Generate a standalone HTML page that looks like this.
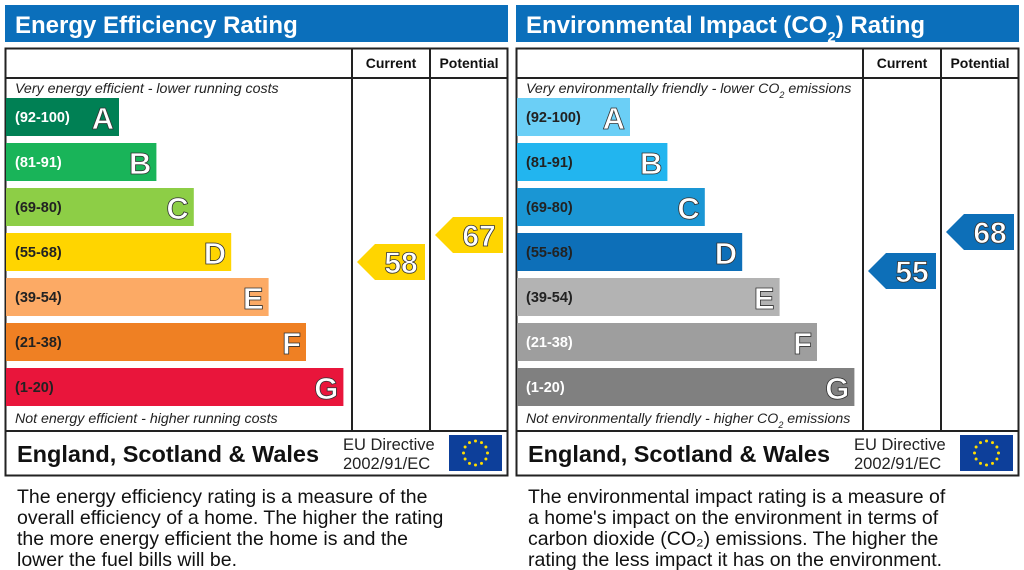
<!DOCTYPE html>
<html><head><meta charset="utf-8"><style>
html,body{margin:0;padding:0;background:#fff;width:1024px;height:570px;overflow:hidden}
text{font-family:"Liberation Sans",Arial,sans-serif}
</style></head><body>
<svg id="epc" width="1024" height="570" viewBox="0 0 1024 570" xmlns="http://www.w3.org/2000/svg"></svg>
<script>
const bandLetters = ["A","B","C","D","E","F","G"];
const bandRanges = ["(92-100)","(81-91)","(69-80)","(55-68)","(39-54)","(21-38)","(1-20)"];
const energyColors = ["#008054","#19b459","#8dce46","#ffd500","#fcaa65","#ef8023","#e9153b"];
const envColors = ["#6bcff6","#22b5ef","#1a96d4","#0d6fb8","#b3b3b3","#9e9e9e","#808080"];
const energyRangeWhite = [true,true,false,false,false,false,false];
const envRangeWhite = [false,false,false,false,false,true,true];
const energyValues = [58, 67];   // current, potential
const envValues = [55, 68];
const descEnergy = ["The energy efficiency rating is a measure of the","overall efficiency of a home. The higher the rating","the more energy efficient the home is and the","lower the fuel bills will be."];
const descEnv = ["The environmental impact rating is a measure of","a home's impact on the environment in terms of","carbon dioxide (CO₂) emissions. The higher the","rating the less impact it has on the environment."];

const NS="http://www.w3.org/2000/svg";
const svg=document.getElementById('epc');
function el(tag,attrs,parent,txt){const e=document.createElementNS(NS,tag);for(const k in attrs)e.setAttribute(k,attrs[k]);if(txt!==undefined)e.textContent=txt;(parent||svg).appendChild(e);return e;}
function bandY(i){return 98+45*i;}
function bandW(i){return 113+37.4*i;}
function valueY(v){return 436-3*v;}
function arrowColor(v,colors){const lo=[92,81,69,55,39,21,1];for(let i=0;i<7;i++)if(v>=lo[i])return colors[i];return colors[6];}

function panel(ox,title,colors,rangeWhite,values,topTxt,botTxt,desc,pfx){
  const g=el('g',{},svg);
  
  
  const hb=el('rect',{x:ox,y:5,width:503,height:37,fill:'#0b6fbb'},g);
  
  
  const tt=el('text',{x:ox+10,y:33,'font-size':24,'font-weight':'bold',fill:'#fff'},g);
  
  
  title(tt);
  const box=el('rect',{x:ox+0.5,y:48.5,width:502,height:427,fill:'#fff',stroke:'#222','stroke-width':2},g);
  
  
  el('line',{x1:ox,y1:78,x2:ox+503,y2:78,stroke:'#222','stroke-width':2},g);
  el('line',{x1:ox,y1:431,x2:ox+503,y2:431,stroke:'#222','stroke-width':2},g);
  el('line',{x1:ox+347,y1:48,x2:ox+347,y2:431,stroke:'#222','stroke-width':2},g);
  el('line',{x1:ox+425,y1:48,x2:ox+425,y2:431,stroke:'#222','stroke-width':2},g);
  const hc=el('text',{x:ox+386,y:68,'font-size':14,'font-weight':'bold','text-anchor':'middle',fill:'#111'},g,'Current');
  
  
  const hp=el('text',{x:ox+464,y:68,'font-size':14,'font-weight':'bold','text-anchor':'middle',fill:'#111'},g,'Potential');
  
  
  const t1=el('text',{x:ox+10,y:93,'font-size':14.2,'font-style':'italic',fill:'#222'},g);
  topTxt(t1);
  
  
  const t2=el('text',{x:ox+10,y:423,'font-size':14.2,'font-style':'italic',fill:'#222'},g);
  botTxt(t2);
  
  
  for(let i=0;i<7;i++){
    const y=bandY(i),w=bandW(i);
    const r=el('rect',{x:ox+1,y:y,width:w,height:38,fill:colors[i]},g);
    
    
    const rt=el('text',{x:ox+10,y:y+24,'font-size':14.5,'font-weight':'bold',fill:rangeWhite[i]?'#fff':'#222'},g,bandRanges[i]);
    
    
    const lt=el('text',{x:ox+w-4,y:y+31,'font-size':31,'font-weight':'bold','text-anchor':'end',fill:'#fff',stroke:'#333','stroke-width':0.8},g,bandLetters[i]);
    
    
  }
  const cols=[ox+352,ox+430];
  values.forEach((v,k)=>{
    const cy=valueY(v),x=cols[k];
    const p=el('polygon',{points:`${x},${cy} ${x+18},${cy-18} ${x+68},${cy-18} ${x+68},${cy+18} ${x+18},${cy+18}`,fill:arrowColor(v,colors)},g);
    
    
    const vt=el('text',{x:x+44,y:cy+11,'font-size':30,'font-weight':'bold','text-anchor':'middle',fill:'#fff',stroke:'#333','stroke-width':0.8},g,String(v));
    
    
  });
  const ft=el('text',{x:ox+12,y:462,'font-size':23.5,'font-weight':'bold',fill:'#111'},g,'England, Scotland & Wales');
  
  
  const d1=el('text',{x:ox+338,y:450,'font-size':16.5,fill:'#222'},g,'EU Directive');
  
  
  el('text',{x:ox+338,y:469,'font-size':16.5,fill:'#222'},g,'2002/91/EC');
  const fl=el('rect',{x:ox+444,y:435,width:53,height:36,fill:'#0d3f9a'},g);
  
  
  for(let s=0;s<12;s++){const a=s*Math.PI/6;el('circle',{cx:ox+470.5+12*Math.cos(a),cy:453+12*Math.sin(a),r:1.5,fill:'#ffdd00'},g);}
  desc.forEach((line,i)=>{
    const d=el('text',{x:ox+12,y:503+21*i,'font-size':19.5,fill:'#111'},g,line);
    
    
  });
}
function sub(t,parts){parts.forEach(p=>{const s=document.createElementNS(NS,'tspan');s.textContent=p[0];if(p[1]){s.setAttribute('baseline-shift','sub');s.setAttribute('font-size',p[1]);}t.appendChild(s);});}
panel(5,t=>{t.textContent='Energy Efficiency Rating';},energyColors,energyRangeWhite,energyValues,
  t=>{t.textContent='Very energy efficient - lower running costs';},
  t=>{t.textContent='Not energy efficient - higher running costs';},descEnergy,'energy');
panel(516,t=>sub(t,[['Environmental Impact (CO'],['2',15],[') Rating']]),envColors,envRangeWhite,envValues,
  t=>sub(t,[['Very environmentally friendly - lower CO'],['2',9],[' emissions']]),
  t=>sub(t,[['Not environmentally friendly - higher CO'],['2',9],[' emissions']]),descEnv,'env');
</script>
</body></html>
